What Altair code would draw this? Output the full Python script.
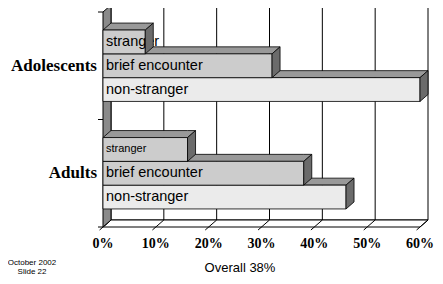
import altair as alt
import pandas as pd

# ---- data ----
groups = ["Adolescents", "Adults"]
series = ["stranger", "brief encounter", "non-stranger"]
adolescent_pct = [8, 32, 60]
adult_pct = [16, 38, 46]
tick_values = [0, 10, 20, 30, 40, 50, 60]
tick_labels = ["0%", "10%", "20%", "30%", "40%", "50%", "60%"]
footer_title = "Overall 38%"
footer_note = ["October 2002", "Slide 22"]

# ---- geometry / style ----
W, H = 427, 268
X0, X1 = 95, 412              # pixel range of 0..60 on the front plane
Y0, Y1 = 4, 219               # pixel range of the two category bands
XMAX = 60
DX = 8 * XMAX / (X1 - X0)      # 3D depth offset (8 px right)
DY = 7 * 2 / (Y1 - Y0)         # 3D depth offset (7 px up)
BAR = 23.8 / 107.5             # bar thickness in band units

xs = alt.Scale(domain=[0, XMAX], range=[X0, X1], nice=False, zero=False)
ys = alt.Scale(domain=[0, 2], range=[Y0, Y1], nice=False, zero=False)


def X(f):
    return alt.X(f, type="quantitative", scale=xs, axis=None)


def Y(f):
    return alt.Y(f, type="quantitative", scale=ys, axis=None, stack=False)


# bars
bars = []
for gi, (g, vals) in enumerate(zip(groups, [adolescent_pct, adult_pct])):
    for si in [2, 1, 0]:
        top = gi + 0.5 + (si - 1.5) * BAR
        bars.append(dict(group=g, series=series[si], value=vals[si], top=top,
                         bottom=top + BAR, id=f"{gi}{2 - si}", gi=gi, si=si))
bars_df = pd.DataFrame(bars)

top_rows, side_rows = [], []
for b in bars:
    v, t, bt = b["value"], b["top"], b["bottom"]
    top_rows += [
        dict(id=b["id"], x=0, y=t, y2=t),
        dict(id=b["id"], x=DX, y=t, y2=t - DY),
        dict(id=b["id"], x=v, y=t, y2=t - DY),
        dict(id=b["id"], x=v + DX, y=t - DY, y2=t - DY),
    ]
    side_rows += [
        dict(id=b["id"], x=v, y=bt, y2=t),
        dict(id=b["id"], x=v + DX, y=bt - DY, y2=t - DY),
    ]
top_df = pd.DataFrame(top_rows)
side_df = pd.DataFrame(side_rows)

# walls
back_df = pd.DataFrame([dict(x=DX, x2=XMAX + DX, y=-DY, y2=2 - DY)])
left_df = pd.DataFrame([dict(x=0, y=2, y2=0), dict(x=DX, y=2 - DY, y2=-DY)])
floor_df = pd.DataFrame([
    dict(x=0, y=2, y2=2), dict(x=DX, y=2, y2=2 - DY),
    dict(x=XMAX, y=2, y2=2 - DY), dict(x=XMAX + DX, y=2 - DY, y2=2 - DY),
])
grid_df = pd.DataFrame([dict(x=v + DX, y=-DY, y2=2 - DY) for v in tick_values[1:-1]])
ext_y = 3 * 2 / (Y1 - Y0)
ext_x = (3 * 8 / 7) * XMAX / (X1 - X0)
floor_grid_df = pd.DataFrame([dict(x=v - ext_x, y=2 + ext_y, x2=v + DX, y2=2 - DY)
                              for v in tick_values])
ytick_df = pd.DataFrame([dict(y=0), dict(y=1), dict(y=2)])
ticks_df = pd.DataFrame(dict(v=tick_values, label=tick_labels))
cat_df = pd.DataFrame(dict(group=groups, y=[0.5, 1.5]))

back = alt.Chart(back_df).mark_rect(fill="white", stroke="black", strokeWidth=1).encode(
    x=X("x"), x2="x2", y=Y("y"), y2="y2")
grid = alt.Chart(grid_df).mark_rule(color="black", strokeWidth=1).encode(
    x=X("x"), y=Y("y"), y2="y2")
floor = alt.Chart(floor_df).mark_area(orient="vertical", fill="white", stroke="black",
                                      strokeWidth=1).encode(x=X("x"), y=Y("y"), y2="y2")
floor_grid = alt.Chart(floor_grid_df).mark_rule(color="black", strokeWidth=1).encode(
    x=X("x"), x2="x2", y=Y("y"), y2="y2")
left = alt.Chart(left_df).mark_area(orient="vertical", fill="#8a8a8a", stroke="black",
                                    strokeWidth=1).encode(x=X("x"), y=Y("y"), y2="y2")
yticks = alt.Chart(ytick_df).mark_rule(color="black", strokeWidth=1).encode(
    x=alt.value(X0 - 5), x2=alt.value(X0), y=Y("y"))

tops = alt.Chart(top_df).mark_area(orient="vertical", fill="#999999", stroke="black",
                                   strokeWidth=0.8).encode(
    x=X("x"), y=Y("y"), y2="y2", detail="id:N")
fronts = alt.Chart(bars_df).mark_rect(stroke="black", strokeWidth=0.8).encode(
    x=X("x0:Q"), x2="value:Q", y=Y("top"), y2="bottom:Q",
    fill=alt.Fill("series:N", scale=alt.Scale(domain=series,
                                              range=["#cccccc", "#cccccc", "#ebebeb"]),
                  legend=None),
).transform_calculate(x0="0")
labels = alt.Chart(bars_df).mark_text(align="left", baseline="middle",
                                      font="Liberation Sans", color="black").encode(
    x=alt.value(X0 + 3),
    y=Y("mid:Q"),
    text="series:N",
    size=alt.condition("datum.group == 'Adults' && datum.series == 'stranger'",
                       alt.value(11), alt.value(14.5)),
).transform_calculate(mid="(datum.top + datum.bottom) / 2")
sides = alt.Chart(side_df).mark_area(orient="vertical", fill="#6b6b6b", stroke="black",
                                     strokeWidth=0.8).encode(
    x=X("x"), y=Y("y"), y2="y2", detail="id:N")

cats = alt.Chart(cat_df).mark_text(align="right", baseline="middle", font="Liberation Serif",
                                   fontWeight="bold", fontSize=17, color="black").encode(
    x=alt.value(X0 - 6), y=Y("y"), text="group:N")
tick_text = alt.Chart(ticks_df).mark_text(align="center", baseline="middle",
                                          font="Liberation Serif", fontWeight="bold",
                                          fontSize=14, color="black").encode(
    x=X("v"), y=alt.value(235.5), text="label:N")
title_text = alt.Chart(pd.DataFrame(dict(t=[footer_title]))).mark_text(
    align="center", baseline="middle", font="Liberation Sans", fontSize=13,
    color="black").encode(x=alt.value(232), y=alt.value(260), text="t:N")
note1 = alt.Chart(pd.DataFrame(dict(t=[footer_note[0]]))).mark_text(
    align="center", baseline="middle", font="Liberation Sans", fontSize=8,
    color="black").encode(x=alt.value(24), y=alt.value(254.5), text="t:N")
note2 = alt.Chart(pd.DataFrame(dict(t=[footer_note[1]]))).mark_text(
    align="center", baseline="middle", font="Liberation Sans", fontSize=8,
    color="black").encode(x=alt.value(24), y=alt.value(263.5), text="t:N")

chart = alt.layer(
    back, grid, floor, floor_grid, left, yticks, tops, fronts, labels, sides,
    cats, tick_text, title_text, note1, note2,
).properties(
    width=W, height=H, padding=0, autosize=alt.AutoSizeParams(type="none")
).configure_view(stroke=None)

chart.save("out.html", embed_options={"renderer": "svg", "actions": False})
